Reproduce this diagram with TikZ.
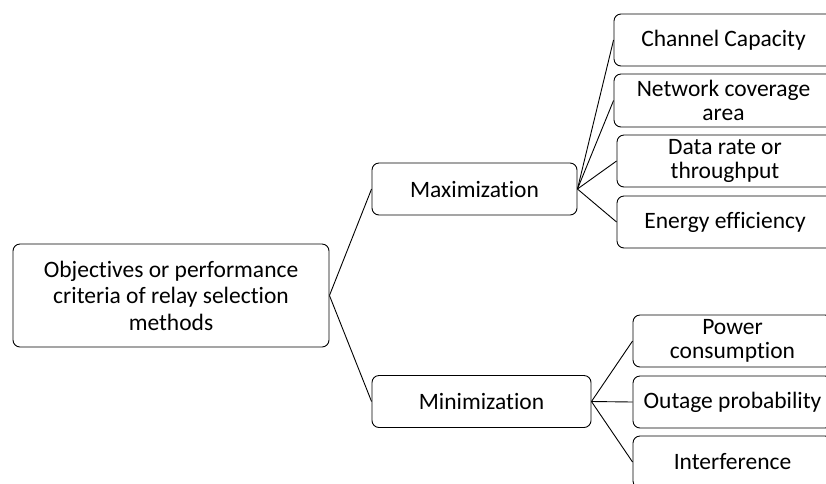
\documentclass[tikz,border=0pt]{standalone}
\usepackage{fontspec}
\setmainfont{Carlito}[Ligatures=NoCommon]
\begin{document}
\begin{tikzpicture}[x=1pt, y=-1pt, line width=0.9pt]
        \useasboundingbox (0, 0) rectangle (826, 483);
        \begin{scope}[every node/.style = {draw, rounded corners=7pt, align=center, inner sep=0pt, font=\fontsize{23.5}{24}\selectfont}]
            \node[minimum width=316pt, minimum height=103pt, font=\fontsize{23.5}{26.5}\selectfont] (root) at (171, 295.5) {Objectives or performance\\criteria of relay selection\\methods};
            \node[minimum width=205pt, minimum height=52pt] (max) at (474.5, 189) {Maximization};
            \node[minimum width=219pt, minimum height=52pt] (min) at (481.5, 401.5) {Minimization};
            \node[minimum width=219pt, minimum height=52pt] (cap) at (723.5, 40) {Channel Capacity};
            \node[minimum width=219pt, minimum height=53pt] (cov) at (723.5, 100.5) {Network coverage\\area};
            \node[minimum width=216pt, minimum height=52pt] (rate) at (725, 161) {Data rate or\\throughput};
            \node[minimum width=216pt, minimum height=52pt] (energy) at (725, 222) {Energy efficiency};
            \node[minimum width=199pt, minimum height=52pt] (power) at (732.5, 341) {Power\\consumption};
            \node[minimum width=199pt, minimum height=52pt] (outage) at (732.5, 402) {Outage probability};
            \node[minimum width=199pt, minimum height=52pt] (inter) at (732.5, 462) {Interference};
        \end{scope}
        \draw (root.east) edge (max.west);
        \draw (root.east) edge (min.west);
        \draw (max.east) edge (cap.west);
        \draw (max.east) edge (cov.west);
        \draw (max.east) edge (rate.west);
        \draw (max.east) edge (energy.west);
        \draw (min.east) edge (power.west);
        \draw (min.east) edge (outage.west);
        \draw (min.east) edge (inter.west);
    \end{tikzpicture}
\end{document}
